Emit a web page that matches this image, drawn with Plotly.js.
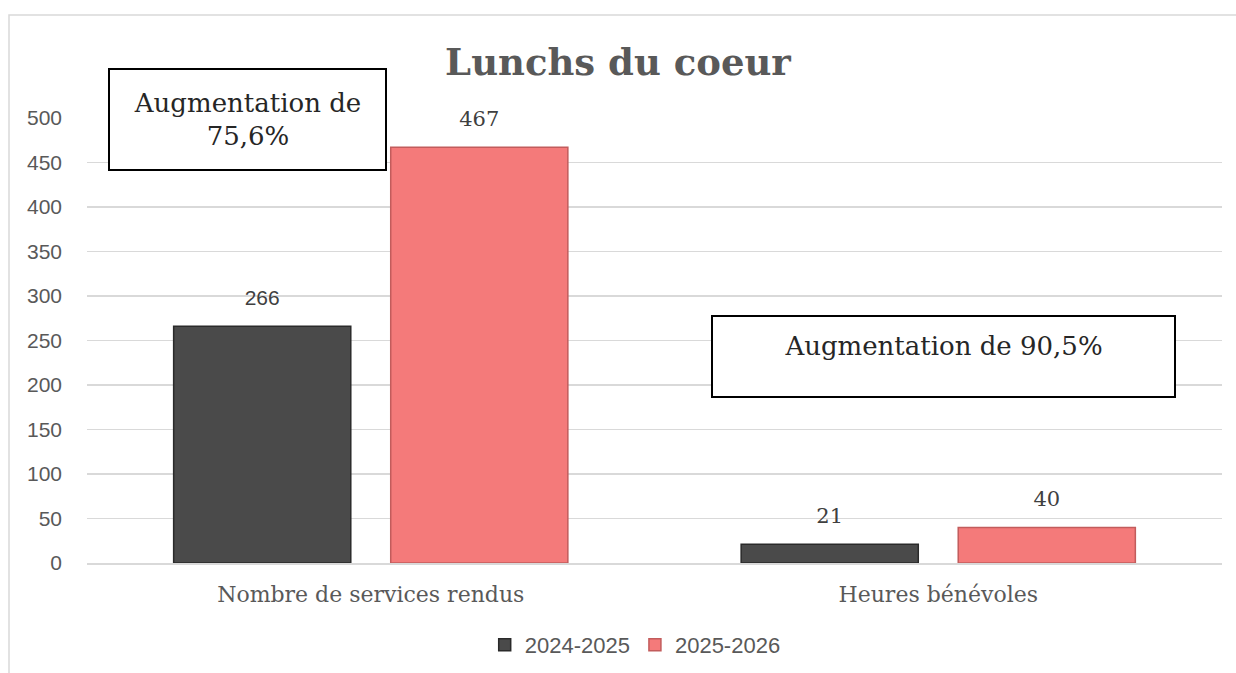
<!DOCTYPE html>
<html>
<head>
<meta charset="utf-8">
<script src="https://cdn.plot.ly/plotly-3.0.1.min.js"></script>
<style>
  html, body { margin: 0; padding: 0; background: #fff; }
  #chart { width: 1236px; height: 673px; }
</style>
</head>
<body>
<div id="chart"></div>
<script>
var categories = ["Nombre de services rendus", "Heures bénévoles"];
var seriesNames = ["2024-2025", "2025-2026"];
var values2024 = [266, 21];
var values2025 = [467, 40];
var yTicks = [0, 50, 100, 150, 200, 250, 300, 350, 400, 450, 500];

var SLAB = "DejaVu Serif, serif";
var SANS = "Liberation Sans, Arial, sans-serif";
var BARGAP = 0.235;

var barTrace = function(name, values, fill, edge) {
  return {
    type: "bar",
    name: name,
    x: categories,
    y: values,
    marker: { color: fill, line: { color: edge, width: 1.5 } },
    hoverinfo: "x+y"
  };
};

// value labels sit a bit higher than plotly's bar text, so draw them with a
// grouped scatter text trace and an invisible marker to push them up
var labelTrace = function(values, fonts) {
  return {
    type: "scatter",
    mode: "markers+text",
    x: categories,
    y: values,
    text: values.map(String),
    textposition: "top center",
    cliponaxis: false,
    marker: { size: 24, opacity: 0 },
    textfont: { family: fonts, size: 21, color: "#404040" },
    showlegend: false,
    hoverinfo: "skip"
  };
};

var data = [
  barTrace(seriesNames[0], values2024, "#4a4a4a", "#2a2a2a"),
  barTrace(seriesNames[1], values2025, "#f47a7a", "#c25c5c"),
  labelTrace(values2024, [SANS, SLAB]),
  labelTrace(values2025, [SLAB, SLAB])
];

var layout = {
  width: 1236,
  height: 673,
  paper_bgcolor: "#fff",
  plot_bgcolor: "#fff",
  margin: { l: 87, r: 14, t: 118, b: 110, autoexpand: false },
  title: {
    text: "<b>Lunchs du coeur</b>",
    font: { family: SLAB, size: 37, color: "#595959" },
    x: 0.5,
    xanchor: "center",
    y: 0.908,
    yanchor: "middle"
  },
  barmode: "group",
  bargap: BARGAP,
  bargroupgap: 0.184,
  scattermode: "group",
  scattergap: BARGAP,
  showlegend: true,
  legend: {
    orientation: "h",
    x: 0.483,
    xanchor: "center",
    y: -0.184,
    yanchor: "middle",
    font: { family: SANS, size: 22, color: "#595959" },
    itemwidth: 30,
    traceorder: "normal"
  },
  xaxis: {
    type: "category",
    showgrid: false,
    showline: true,
    linecolor: "#d9d9d9",
    linewidth: 1.5,
    ticks: "",
    tickfont: { family: SLAB, size: 22, color: "#595959" },
    ticklabelstandoff: 11
  },
  yaxis: {
    range: [0, 500],
    tickvals: yTicks,
    ticktext: yTicks.map(String),
    showgrid: true,
    gridcolor: "#d9d9d9",
    gridwidth: 1.5,
    zeroline: false,
    showline: false,
    ticks: "",
    tickfont: { family: SANS, size: 21, color: "#595959" },
    ticklabelstandoff: 24
  },
  shapes: [
    {
      type: "rect",
      xref: "paper", yref: "paper",
      x0: (9 - 87) / 1135, x1: (1240 - 87) / 1135,
      y0: -(680 - 563) / 445, y1: (563 - 15) / 445,
      line: { color: "#d9d9d9", width: 1.5 },
      fillcolor: "rgba(0,0,0,0)",
      layer: "below"
    }
  ],
  annotations: [
    {
      xref: "paper", yref: "paper",
      x: (108 - 87) / 1135, xanchor: "left",
      y: (563 - 68) / 445, yanchor: "top",
      text: "Augmentation de<br>75,6%",
      showarrow: false,
      align: "center",
      valign: "middle",
      width: 275,
      height: 99,
      bgcolor: "#fff",
      bordercolor: "#000",
      borderwidth: 2,
      borderpad: 0,
      font: { family: SLAB, size: 26, color: "#262626" }
    },
    {
      xref: "paper", yref: "paper",
      x: (711 - 87) / 1135, xanchor: "left",
      y: (563 - 315) / 445, yanchor: "top",
      text: "Augmentation de 90,5%",
      showarrow: false,
      align: "center",
      valign: "top",
      width: 433,
      height: 51,
      bgcolor: "#fff",
      bordercolor: "#000",
      borderwidth: 2,
      borderpad: 14,
      font: { family: SLAB, size: 26, color: "#262626" }
    }
  ]
};

Plotly.newPlot(document.getElementById("chart"), data, layout, {
  displayModeBar: false,
  staticPlot: true
});
</script>
</body>
</html>
